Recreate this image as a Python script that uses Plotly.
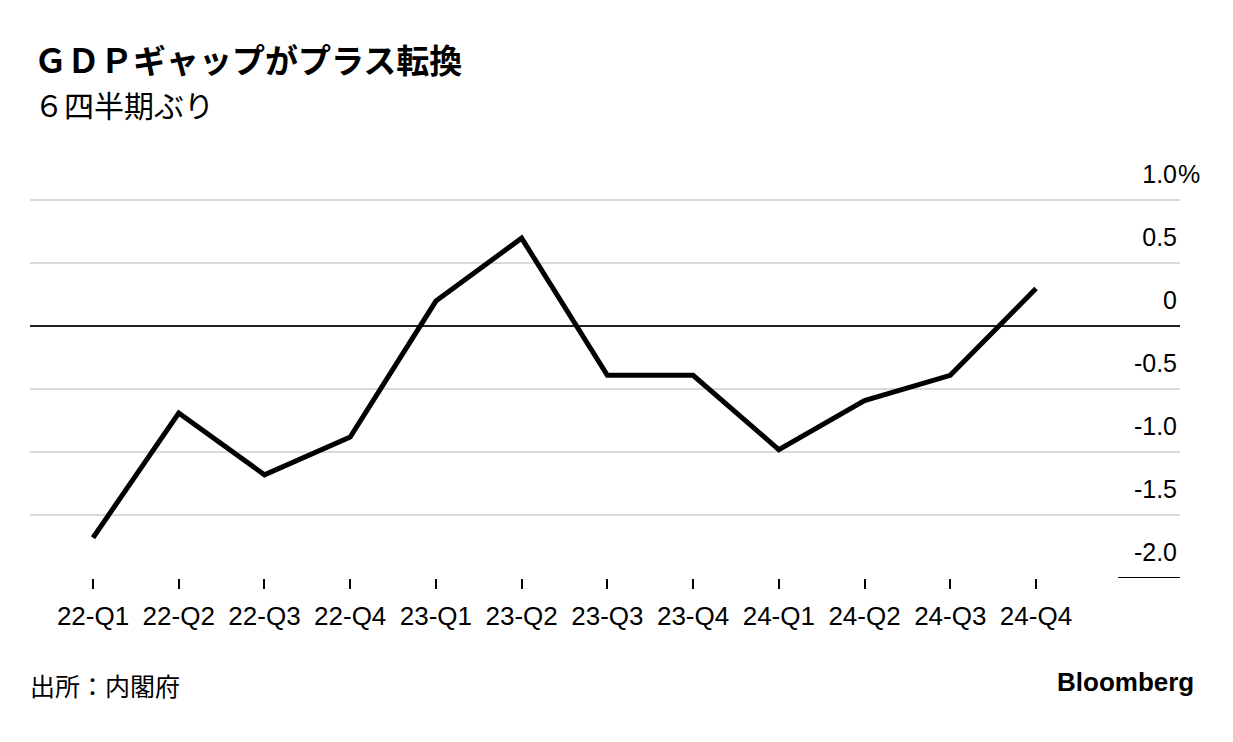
import plotly.graph_objects as go

# ---- data ----
quarters = ["22-Q1", "22-Q2", "22-Q3", "22-Q4", "23-Q1", "23-Q2",
            "23-Q3", "23-Q4", "24-Q1", "24-Q2", "24-Q3", "24-Q4"]
gdp_gap = [-1.68, -0.69, -1.18, -0.88, 0.20, 0.70,
           -0.39, -0.39, -0.98, -0.59, -0.39, 0.30]
y_tick_vals = [-2.0, -1.5, -1.0, -0.5, 0.0, 0.5, 1.0]
y_tick_text = ["-2.0", "-1.5", "-1.0", "-0.5", "0", "0.5", "1.0"]

title_text = "ＧＤＰギャップがプラス転換"
subtitle_text = "６四半期ぶり"
source_text = "出所：内閣府"
brand_text = "Bloomberg"

# ---- layout geometry ----
W, H = 1233, 742
Y_MIN, Y_MAX = -2.0, 1.4
PX_PER_UNIT = 125.7
ML, MR, MB = 30, 53, 164.3
PH = (Y_MAX - Y_MIN) * PX_PER_UNIT
MT = H - MB - PH
PW = W - ML - MR


def py(y_px):
    return (H - MB - y_px) / PH


def px(x_px):
    return (x_px - ML) / PW


LAT = "Liberation Sans, Arial, sans-serif"
CJK = "Noto Sans CJK JP, sans-serif"

fig = go.Figure()
fig.add_trace(go.Scatter(
    x=quarters, y=gdp_gap, mode="lines",
    line=dict(color="black", width=5),
    hoverinfo="skip", showlegend=False,
))

fig.update_layout(
    width=W, height=H,
    margin=dict(l=ML, r=MR, t=MT, b=MB),
    paper_bgcolor="white", plot_bgcolor="white",
    showlegend=False,
    xaxis=dict(
        type="category",
        range=[-0.735, 12.68],
        showgrid=False, zeroline=False, showline=False,
        ticks="outside", ticklen=10, tickwidth=1.5, tickcolor="black",
        ticklabelstandoff=5,
        tickfont=dict(family=LAT, size=26, color="black"),
    ),
    yaxis=dict(
        side="right",
        range=[Y_MIN, Y_MAX],
        tickvals=y_tick_vals, ticktext=y_tick_text,
        ticklabelposition="inside",
        ticklabelshift=-26,
        ticks="",
        showgrid=True, gridcolor="#d9d9d9", gridwidth=1.5,
        zeroline=True, zerolinecolor="#222222", zerolinewidth=1.5,
        showline=False,
        tickfont=dict(family=LAT, size=25, color="black"),
    ),
)

# short black rule under the lowest label
fig.add_shape(type="line", xref="paper", yref="y",
              x0=px(1118), x1=1.0, y0=y_tick_vals[0], y1=y_tick_vals[0],
              line=dict(color="black", width=2))

annotations = [
    dict(text="%", xref="paper", yref="y", x=1.0, y=y_tick_vals[-1],
         xanchor="left", yanchor="middle", yshift=26, xshift=-4,
         showarrow=False,
         font=dict(family=LAT, size=25, color="black")),
    dict(text=title_text, xref="paper", yref="paper", x=px(32), y=py(59.5),
         xanchor="left", yanchor="middle", showarrow=False,
         font=dict(family=CJK, size=33, color="black", weight="bold")),
    dict(text=subtitle_text, xref="paper", yref="paper", x=px(32), y=py(104),
         xanchor="left", yanchor="middle", showarrow=False,
         font=dict(family=CJK, size=30, color="black")),
    dict(text=source_text, xref="paper", yref="paper", x=px(28), y=py(685),
         xanchor="left", yanchor="middle", showarrow=False,
         font=dict(family=CJK, size=25, color="black")),
    dict(text=brand_text, xref="paper", yref="paper", x=px(1196), y=py(682),
         xanchor="right", yanchor="middle", showarrow=False,
         font=dict(family=LAT, size=26, color="black", weight="bold")),
]
fig.update_layout(annotations=annotations)

fig.write_html("out.html", config={"displayModeBar": False},
               post_script="document.body.style.margin='0';")
